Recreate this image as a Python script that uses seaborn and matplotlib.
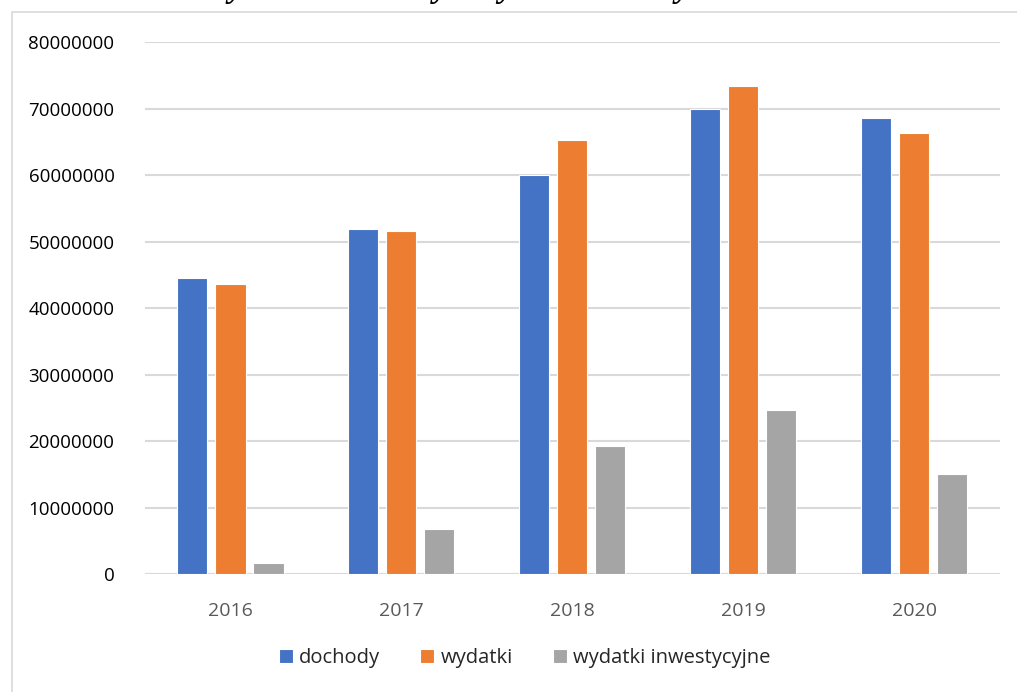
import matplotlib
matplotlib.use("Agg")
import matplotlib.pyplot as plt
import matplotlib.patches as mpatches
import seaborn as sns
import pandas as pd

years = ["2016", "2017", "2018", "2019", "2020"]
dochody = [44600000, 51900000, 60000000, 70000000, 68600000]
wydatki = [43600000, 51600000, 65300000, 73400000, 66300000]
wydatki_inw = [1650000, 6800000, 19200000, 24700000, 15000000]
series = ["dochody", "wydatki", "wydatki inwestycyjne"]
colors = ["#4472C4", "#ED7D31", "#A5A5A5"]

df = pd.DataFrame({
    "rok": years * 3,
    "seria": [s for s in series for _ in years],
    "wartosc": dochody + wydatki + wydatki_inw,
})

sns.set_style("white")
plt.rcParams["font.family"] = ["Open Sans", "DejaVu Sans"]

fig = plt.figure(figsize=(10.17, 6.92), dpi=100)
ax = fig.add_axes([0.1426, 0.1705, 0.8404, 0.7685])

# outer chart frame (partially cropped in the reference)
fig.patches.append(mpatches.Rectangle((12 / 1017, -0.01), 1.0, 1 - 12 / 692 + 0.01,
                                      transform=fig.transFigure, fill=False,
                                      edgecolor="#D9D9D9", linewidth=1.2))
# title cut off at the top edge, as in the source image
fig.text(0.58, 1.018, "Wykres. Dochody i wydatki Gminy w latach 2016-2020",
         ha="center", va="center", fontsize=25, style="italic", fontweight="bold",
         family="Liberation Serif", color="black")

sns.barplot(data=df, x="rok", y="wartosc", hue="seria", palette=colors,
            saturation=1, width=0.667, gap=0.21, edgecolor="white",
            linewidth=0.8, ax=ax)

ax.set_ylim(0, 80000000)
ax.set_yticks(range(0, 80000001, 10000000))
ax.set_yticklabels([str(v) for v in range(0, 80000001, 10000000)])
ax.yaxis.grid(True, color="#D9D9D9", linewidth=1.5)
ax.set_axisbelow(True)
for s in ax.spines.values():
    s.set_visible(False)
ax.axhline(0, color="#D9D9D9", linewidth=1.5, zorder=0)
ax.set_xlabel("")
ax.set_ylabel("")
ax.tick_params(axis="y", labelsize=13.5, colors="black", length=0, pad=22)
ax.tick_params(axis="x", labelsize=14, colors="#595959", length=0, pad=20)

ax.legend(loc="upper center", bbox_to_anchor=(0.444, -0.105), ncol=3, frameon=False,
          fontsize=14.5, handlelength=0.7, handleheight=0.7, handletextpad=0.3,
          columnspacing=2.0)

fig.savefig("out.png", dpi=100)
